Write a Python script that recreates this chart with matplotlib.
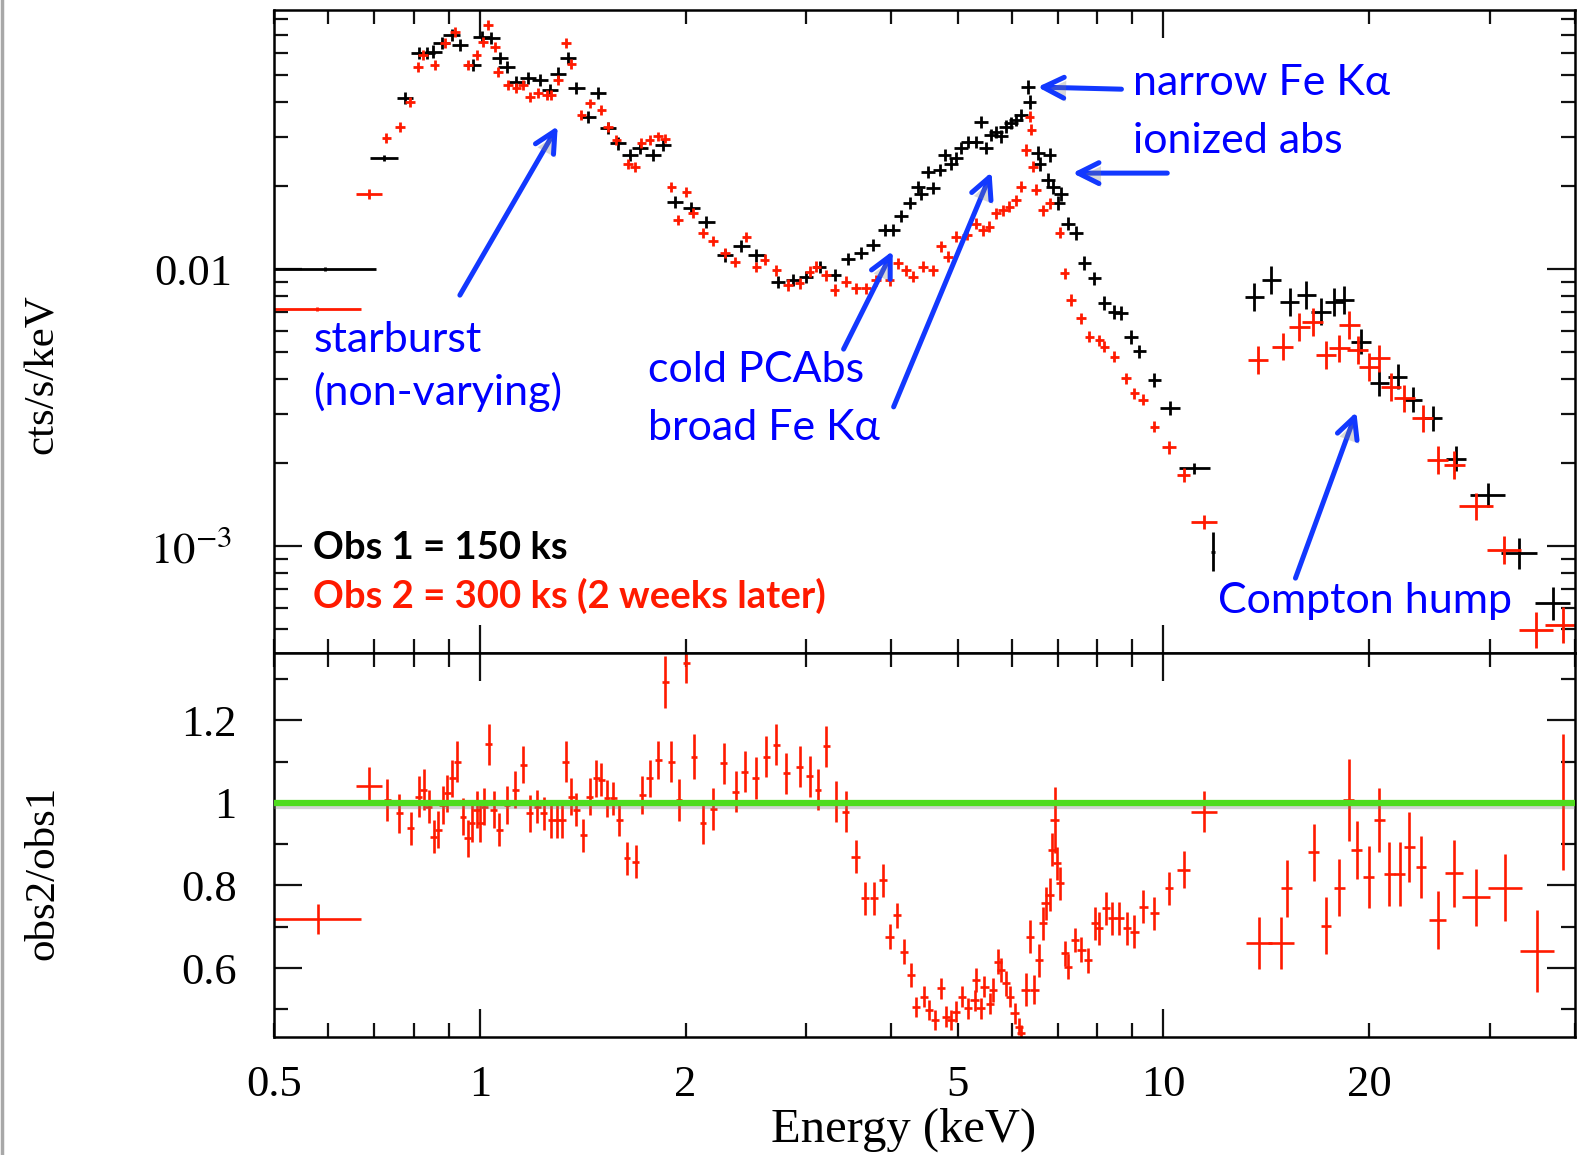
import matplotlib
matplotlib.use("Agg")
import matplotlib.pyplot as plt
import matplotlib.patheffects as pe
import numpy as np
from matplotlib.ticker import FixedLocator, LogLocator, MultipleLocator, FuncFormatter, NullFormatter

# --- spectrum, observation 1 (150 ks) ---
obs1_kev = [0.593, 0.724, 0.777, 0.815, 0.836, 0.855, 0.879, 0.909, 0.935, 0.978,
            1.006, 1.040, 1.070, 1.094, 1.131, 1.177, 1.224, 1.266, 1.302, 1.346,
            1.384, 1.440, 1.489, 1.540, 1.593, 1.657, 1.714, 1.792, 1.854, 1.928,
            2.039, 2.145, 2.282, 2.413, 2.539, 2.730, 2.871, 3.003, 3.141, 3.304,
            3.455, 3.614, 3.758, 3.909, 4.020, 4.134, 4.252, 4.373, 4.422, 4.523,
            4.600, 4.704, 4.785, 4.893, 4.975, 5.060, 5.174, 5.322, 5.412, 5.503,
            5.598, 5.693, 5.790, 5.888, 5.987, 6.089, 6.192, 6.334, 6.372, 6.553,
            6.589, 6.777, 6.814, 6.892, 7.008, 7.087, 7.246, 7.452, 7.664, 7.926,
            8.198, 8.479, 8.671, 8.969, 9.224, 9.701, 10.23, 11.10, 11.81, 13.58,
            14.37, 15.29, 16.17, 17.00, 17.78, 18.39, 19.45, 20.69, 22.01, 23.15,
            24.76, 26.79, 29.79, 33.15, 37.09]
obs1_rate = [0.0100, 0.0252, 0.0415, 0.0601, 0.0604, 0.0610, 0.0653, 0.0700, 0.0644, 0.0544,
             0.0690, 0.0681, 0.0577, 0.0537, 0.0474, 0.0488, 0.0481, 0.0443, 0.0508, 0.0577,
             0.0449, 0.0355, 0.0431, 0.0322, 0.0284, 0.0258, 0.0273, 0.0258, 0.0281, 0.0175,
             0.0166, 0.0148, 0.0112, 0.0121, 0.0112, 0.00900, 0.00912, 0.00938, 0.0102, 0.00951,
             0.0109, 0.0114, 0.0122, 0.0138, 0.0138, 0.0155, 0.0173, 0.0198, 0.0187, 0.0224,
             0.0196, 0.0228, 0.0258, 0.0240, 0.0251, 0.0273, 0.0288, 0.0288, 0.0340, 0.0273,
             0.0305, 0.0313, 0.0301, 0.0327, 0.0336, 0.0345, 0.0360, 0.0455, 0.0402, 0.0262,
             0.0240, 0.0209, 0.0258, 0.0198, 0.0173, 0.0187, 0.0146, 0.0135, 0.0105, 0.00925,
             0.00752, 0.00702, 0.00692, 0.00570, 0.00504, 0.00397, 0.00314, 0.00191, 0.000954, 0.00795,
             0.00912, 0.00762, 0.00806, 0.00702, 0.00762, 0.00773, 0.00547, 0.00387, 0.00409, 0.00337,
             0.00289, 0.00207, 0.00153, 0.000941, 0.000621]
# half bin widths and errors, in decades
obs1_xhw = [0.075, 0.021] + [0.012] * 33 + [0.010] * 51 + [0.015, 0.023, 0.003] + [0.014] * 13 + [0.026] * 3
obs1_yhw = [0.008, 0.010] + [0.022] * 65 + [0.025] * 19 + [0.025, 0.020, 0.070] + [0.050] * 7 + [0.045] * 6 + [0.042, 0.057, 0.060]

# --- spectrum, observation 2 (300 ks) ---
obs2_kev = [0.578, 0.688, 0.730, 0.764, 0.790, 0.812, 0.826, 0.859, 0.889, 0.919,
            0.961, 0.989, 1.011, 1.028, 1.052, 1.064, 1.100, 1.131, 1.157, 1.183,
            1.217, 1.252, 1.273, 1.302, 1.336, 1.361, 1.408, 1.448, 1.506, 1.540,
            1.584, 1.647, 1.685, 1.723, 1.772, 1.823, 1.865, 1.907, 1.950, 2.005,
            2.050, 2.121, 2.194, 2.282, 2.360, 2.454, 2.539, 2.610, 2.715, 2.823,
            2.936, 3.037, 3.106, 3.212, 3.304, 3.436, 3.553, 3.675, 3.801, 3.975,
            4.088, 4.205, 4.300, 4.447, 4.600, 4.731, 4.838, 4.975, 5.160, 5.322,
            5.442, 5.566, 5.693, 5.823, 5.954, 6.089, 6.192, 6.300, 6.372, 6.409,
            6.442, 6.516, 6.664, 6.814, 7.047, 7.166, 7.328, 7.579, 7.794, 8.061,
            8.198, 8.479, 8.818, 9.070, 9.328, 9.701, 10.18, 10.70, 11.48, 13.74,
            14.94, 15.81, 16.53, 17.29, 18.08, 18.70, 19.23, 20.00, 20.69, 21.52,
            22.51, 23.94, 25.18, 26.64, 28.65, 31.51, 35.06, 38.36]
obs2_rate = [0.00717, 0.0187, 0.0298, 0.0327, 0.0402, 0.0537, 0.0593, 0.0544, 0.0653, 0.0719,
             0.0544, 0.0593, 0.0662, 0.0760, 0.0635, 0.0515, 0.0461, 0.0449, 0.0461, 0.0419,
             0.0431, 0.0425, 0.0425, 0.0481, 0.0653, 0.0552, 0.0360, 0.0396, 0.0375, 0.0327,
             0.0292, 0.0240, 0.0234, 0.0284, 0.0292, 0.0301, 0.0296, 0.0198, 0.0150, 0.0190,
             0.0159, 0.0135, 0.0126, 0.0114, 0.0106, 0.0131, 0.0102, 0.0108, 0.00991, 0.00876,
             0.00888, 0.00978, 0.0102, 0.00951, 0.00840, 0.00900, 0.00851, 0.00851, 0.00912, 0.00912,
             0.0105, 0.00990, 0.00938, 0.0102, 0.00990, 0.0121, 0.0111, 0.0131, 0.0133, 0.0146,
             0.0138, 0.0142, 0.0159, 0.0163, 0.0168, 0.0177, 0.0198, 0.0269, 0.0355, 0.0318,
             0.0234, 0.0193, 0.0163, 0.0173, 0.0135, 0.00964, 0.00773, 0.00664, 0.00570, 0.00554,
             0.00525, 0.00483, 0.00403, 0.00356, 0.00337, 0.00270, 0.00227, 0.00180, 0.00122, 0.00469,
             0.00525, 0.00619, 0.00645, 0.00490, 0.00517, 0.00628, 0.00510, 0.00444, 0.00476, 0.00376,
             0.00341, 0.00289, 0.00204, 0.00196, 0.00139, 0.000968, 0.000498, 0.000519]
obs2_xhw = [0.064, 0.019] + [0.007] * 94 + [0.010, 0.010, 0.019] + [0.015] * 15 + [0.025] * 4
obs2_yhw = [0.008] + [0.018] * 46 + [0.020] * 49 + [0.025] * 3 + [0.050] * 17 + [0.066] * 2

# --- ratio obs2/obs1 ---
ratio_kev = [0.579, 0.688, 0.732, 0.762, 0.792, 0.814, 0.828, 0.842, 0.856, 0.869,
             0.882, 0.896, 0.911, 0.927, 0.945, 0.960, 0.974, 0.989, 1.002, 1.015,
             1.031, 1.048, 1.067, 1.096, 1.127, 1.157, 1.183, 1.214, 1.240, 1.273,
             1.297, 1.321, 1.336, 1.361, 1.384, 1.416, 1.448, 1.481, 1.506, 1.535,
             1.567, 1.599, 1.642, 1.691, 1.729, 1.772, 1.823, 1.868, 1.907, 1.956,
             2.005, 2.057, 2.121, 2.194, 2.274, 2.367, 2.440, 2.532, 2.625, 2.715,
             2.808, 2.936, 3.037, 3.124, 3.212, 3.314, 3.428, 3.545, 3.656, 3.772,
             3.889, 3.975, 4.075, 4.169, 4.268, 4.350, 4.464, 4.540, 4.628, 4.721,
             4.812, 4.893, 4.975, 5.077, 5.176, 5.292, 5.322, 5.400, 5.473, 5.579,
             5.629, 5.724, 5.790, 5.888, 5.968, 6.056, 6.145, 6.192, 6.284, 6.383,
             6.477, 6.572, 6.664, 6.723, 6.814, 6.876, 6.930, 6.985, 7.063, 7.176,
             7.256, 7.421, 7.587, 7.762, 7.938, 8.055, 8.235, 8.414, 8.624, 8.839,
             9.070, 9.349, 9.701, 10.18, 10.70, 11.48, 13.81, 14.86, 15.15, 16.59,
             17.29, 18.08, 18.66, 19.19, 19.96, 20.69, 21.40, 22.18, 22.89, 23.81,
             25.18, 26.64, 28.65, 31.62, 35.18, 38.36]
ratio_val = [0.718, 1.040, 1.007, 0.975, 0.939, 1.015, 1.032, 0.991, 0.918, 0.935,
             0.995, 1.023, 1.060, 1.100, 0.967, 0.914, 0.951, 0.983, 0.951, 0.991,
             1.142, 0.983, 0.935, 0.995, 1.032, 1.092, 0.975, 0.991, 0.975, 0.959,
             0.959, 0.959, 1.100, 1.015, 0.983, 0.922, 1.015, 1.060, 1.056, 1.011,
             1.011, 0.959, 0.866, 0.858, 1.019, 1.060, 1.104, 1.292, 1.100, 1.007,
             1.340, 1.112, 0.951, 0.985, 1.096, 1.027, 1.076, 1.060, 1.112, 1.141,
             1.072, 1.088, 1.064, 1.032, 1.137, 1.003, 0.979, 0.870, 0.769, 0.769,
             0.813, 0.676, 0.728, 0.640, 0.583, 0.506, 0.531, 0.498, 0.474, 0.551,
             0.482, 0.474, 0.494, 0.531, 0.502, 0.522, 0.571, 0.502, 0.555, 0.514,
             0.547, 0.615, 0.595, 0.563, 0.531, 0.490, 0.458, 0.442, 0.547, 0.676,
             0.547, 0.619, 0.708, 0.757, 0.777, 0.886, 0.959, 0.854, 0.805, 0.636,
             0.603, 0.668, 0.644, 0.619, 0.708, 0.696, 0.745, 0.720, 0.720, 0.696,
             0.688, 0.749, 0.733, 0.793, 0.838, 0.979, 0.660, 0.660, 0.793, 0.880,
             0.702, 0.795, 1.007, 0.886, 0.821, 0.959, 0.828, 0.828, 0.894, 0.844,
             0.716, 0.829, 0.771, 0.795, 0.641, 1.003]
ratio_err = [0.036, 0.046, 0.050, 0.047, 0.040, 0.050, 0.050, 0.040, 0.040, 0.045,
             0.045, 0.045, 0.045, 0.050, 0.045, 0.045, 0.045, 0.045, 0.045, 0.045,
             0.050, 0.045, 0.040, 0.045, 0.045, 0.045, 0.045, 0.040, 0.040, 0.045,
             0.045, 0.045, 0.050, 0.045, 0.040, 0.040, 0.045, 0.045, 0.040, 0.045,
             0.040, 0.040, 0.040, 0.040, 0.045, 0.045, 0.045, 0.063, 0.050, 0.050,
             0.050, 0.055, 0.050, 0.050, 0.050, 0.050, 0.050, 0.050, 0.050, 0.050,
             0.050, 0.050, 0.050, 0.050, 0.050, 0.050, 0.050, 0.040, 0.040, 0.040,
             0.040, 0.030, 0.030, 0.030, 0.030, 0.025, 0.025, 0.025, 0.025, 0.025,
             0.025, 0.025, 0.025, 0.025, 0.025, 0.025, 0.030, 0.025, 0.025, 0.025,
             0.030, 0.030, 0.030, 0.030, 0.025, 0.025, 0.020, 0.020, 0.040, 0.040,
             0.035, 0.040, 0.040, 0.040, 0.040, 0.040, 0.080, 0.040, 0.040, 0.030,
             0.030, 0.030, 0.030, 0.030, 0.040, 0.040, 0.040, 0.040, 0.040, 0.040,
             0.040, 0.040, 0.040, 0.040, 0.045, 0.050, 0.063, 0.063, 0.069, 0.069,
             0.069, 0.070, 0.100, 0.070, 0.075, 0.078, 0.077, 0.077, 0.085, 0.075,
             0.070, 0.080, 0.070, 0.080, 0.100, 0.165]
ratio_xhw = [0.064, 0.019] + [0.005] * 65 + [0.006] * 57 + [0.010, 0.019, 0.019, 0.019] + [0.008] * 12 + [0.013, 0.013, 0.020, 0.025, 0.025, 0.016]

x_labels = {0.5: "0.5", 1: "1", 2: "2", 5: "5", 10: "10", 20: "20"}

RED = "#ff1a00"
TEXT_BLUE = "#0000ff"
ARROW_BLUE = "#1238ff"
GREEN = "#4fdc1e"
SANS = ["Lato", "DejaVu Sans"]

plt.rcParams["font.family"] = "Liberation Serif"
plt.rcParams["mathtext.fontset"] = "stix"


def dex_err(vals, dex):
    v = np.asarray(vals, dtype=float)
    d = np.asarray(dex, dtype=float)
    return np.vstack([v - v / 10 ** d, v * 10 ** d - v])


def x_label(v, pos):
    for k, s in x_labels.items():
        if abs(v - k) < 1e-6 * k:
            return s
    return ""


shadow = [pe.SimpleLineShadow(offset=(1.5, -2.5), shadow_color="#808080", alpha=0.35),
          pe.Normal()]

fig = plt.figure(figsize=(15.85, 11.55), dpi=100)
ax = fig.add_axes([0.1729, 0.4346, 0.8208, 0.5567])
axr = fig.add_axes([0.1729, 0.1022, 0.8208, 0.3324], sharex=ax)

ax.errorbar(obs1_kev, obs1_rate, xerr=dex_err(obs1_kev, obs1_xhw),
            yerr=dex_err(obs1_rate, obs1_yhw), fmt="none", ecolor="black", elinewidth=2.0)
ax.errorbar(obs2_kev, obs2_rate, xerr=dex_err(obs2_kev, obs2_xhw),
            yerr=dex_err(obs2_rate, obs2_yhw), fmt="none", ecolor=RED, elinewidth=2.0)

axr.errorbar(ratio_kev, ratio_val, xerr=dex_err(ratio_kev, ratio_xhw), yerr=ratio_err,
             fmt="none", ecolor=RED, elinewidth=1.9)
axr.axhline(1.0, color=GREEN, lw=4.5, zorder=5, path_effects=shadow)

ax.set_xscale("log")
ax.set_yscale("log")
ax.set_xlim(0.5, 40)
ax.set_ylim(4.11e-4, 0.0861)
axr.set_ylim(0.433, 1.363)

for a in (ax, axr):
    a.xaxis.set_major_locator(FixedLocator([1, 10]))
    a.xaxis.set_minor_locator(LogLocator(base=10, subs=np.arange(2, 10)))
    a.xaxis.set_major_formatter(FuncFormatter(x_label))
    a.xaxis.set_minor_formatter(FuncFormatter(x_label))
    a.tick_params(which="both", direction="in", top=True, right=True,
                  width=1.6, color="#111111", labelsize=32)
    a.tick_params(which="major", length=20)
    a.tick_params(which="minor", length=10)
    for s in a.spines.values():
        s.set_linewidth(1.8)

ax.tick_params(which="both", labelbottom=False)
axr.tick_params(axis="x", which="both", pad=20)
ax.tick_params(axis="y", which="both", pad=30)
axr.tick_params(axis="y", which="both", pad=27)

ax.yaxis.set_major_locator(LogLocator(base=10))
ax.yaxis.set_minor_locator(LogLocator(base=10, subs=np.arange(2, 10)))
ax.yaxis.set_major_formatter(FuncFormatter(
    lambda v, p: "0.01" if abs(v - 0.01) < 1e-9 else (r"$10^{-3}$" if abs(v - 0.001) < 1e-10 else "")))
ax.yaxis.set_minor_formatter(NullFormatter())

axr.yaxis.set_major_locator(MultipleLocator(0.2))
axr.yaxis.set_minor_locator(MultipleLocator(0.1))
axr.yaxis.set_major_formatter(FuncFormatter(lambda v, p: "%g" % round(v, 2)))

ax.set_ylabel("cts/s/keV", fontsize=31)
ax.yaxis.set_label_coords(-0.163, 0.434)
axr.set_ylabel("obs2/obs1", fontsize=31)
axr.yaxis.set_label_coords(-0.163, 0.427)
axr.set_xlabel("Energy (keV)", fontsize=35)
axr.xaxis.set_label_coords(0.4835, -0.185)

# annotations
arrow = dict(arrowstyle="->,head_length=0.5,head_width=0.25", color=ARROW_BLUE,
             lw=3.6, mutation_scale=30, shrinkA=0, shrinkB=0, capstyle="round")
for head, tail in [((1.300, 0.0328), (0.935, 0.00805)),
                   ((4.017, 0.01162), (3.405, 0.00514)),
                   ((5.604, 0.02238), (4.030, 0.00318)),
                   ((6.544, 0.0454), (8.681, 0.0446)),
                   ((7.362, 0.0222), (10.13, 0.0222)),
                   ((19.15, 0.00305), (15.60, 0.000766))]:
    an = ax.annotate("", xy=head, xytext=tail, arrowprops=arrow)
    an.arrow_patch.set_path_effects([pe.SimplePatchShadow(offset=(1.5, -2.5), shadow_rgbFace="#808080", alpha=0.3),
                                     pe.Normal()])

notes = [(9.04, 0.0425, "narrow Fe Kα"),
         (9.04, 0.0262, "ionized abs"),
         (0.5706, 0.00503, "starburst"),
         (0.5706, 0.00323, "(non-varying)"),
         (1.761, 0.00392, "cold PCAbs"),
         (1.761, 0.00242, "broad Fe Kα"),
         (12.01, 0.000573, "Compton hump")]
for x, y, s in notes:
    ax.text(x, y, s, color=TEXT_BLUE, fontsize=31, family=SANS, va="baseline", ha="left")

ax.text(0.5706, 0.000898, "Obs 1 = 150 ks", color="black", fontsize=27.5,
        family=SANS, weight="bold", va="baseline")
ax.text(0.5706, 0.000597, "Obs 2 = 300 ks (2 weeks later)", color=RED, fontsize=27.5,
        family=SANS, weight="bold", va="baseline")

fig.add_artist(plt.Line2D([0.0015, 0.0015], [0, 1], color="#a8a8a8", lw=2.5,
                          transform=fig.transFigure))

fig.savefig("out.png", dpi=100)
